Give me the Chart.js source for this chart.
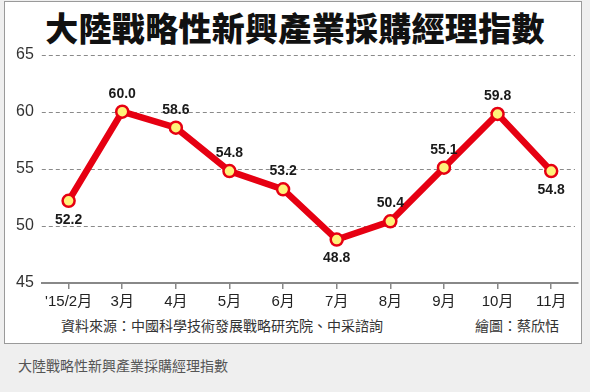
<!DOCTYPE html>
<html><head><meta charset="utf-8">
<script src="https://cdn.jsdelivr.net/npm/chart.js@4"></script>
<style>
html,body{margin:0;padding:0;background:#efefef;width:590px;height:392px;overflow:hidden;font-family:"Liberation Sans","Noto Sans CJK TC",sans-serif;}
#frame{position:absolute;left:4px;top:1px;width:576px;height:341px;background:#fff;border:1px solid #9a9a9a;}
#title{position:absolute;left:0;top:6px;width:590px;text-align:center;font-family:"Noto Sans CJK TC",sans-serif;font-weight:900;font-size:33px;line-height:42px;color:#111;letter-spacing:0.3px;}
#wrap{position:absolute;left:0;top:37px;width:590px;height:278px;}
#src{position:absolute;left:61px;top:316px;font-family:"Noto Sans CJK TC",sans-serif;font-size:14px;line-height:18px;color:#333;}
#author{position:absolute;left:475px;top:316px;font-family:"Noto Sans CJK TC",sans-serif;font-size:14px;line-height:18px;color:#333;}
#cap{position:absolute;left:18px;top:355px;font-family:"Noto Sans CJK TC",sans-serif;font-size:14px;line-height:20px;color:#555;}
</style></head>
<body>
<div id="frame"></div>
<div id="title">大陸戰略性新興產業採購經理指數</div>
<div id="wrap"><canvas id="c" width="590" height="278"></canvas></div>
<div id="src">資料來源：中國科學技術發展戰略研究院、中采諮詢</div>
<div id="author">繪圖：蔡欣恬</div>
<div id="cap">大陸戰略性新興產業採購經理指數</div>
<script>
const categories = ["'15/2月","3月","4月","5月","6月","7月","8月","9月","10月","11月"];
const pmiValues = [52.2, 60.0, 58.6, 54.8, 53.2, 48.8, 50.4, 55.1, 59.8, 54.8];
const labelBelow = [true, false, false, false, false, true, false, false, false, true];
const yTicks = [45, 50, 55, 60, 65];

// dashed horizontal grid lines, positioned by the library's y scale
const dashedGrid = {
  id: 'dashedGrid',
  beforeDatasetsDraw(chart) {
    const ctx = chart.ctx, y = chart.scales.y, area = chart.chartArea;
    ctx.save();
    ctx.strokeStyle = '#8a8a8a';
    ctx.lineWidth = 1;
    ctx.setLineDash([4, 3]);
    y.ticks.forEach(t => {
      if (t.value === y.min) return;
      const py = Math.round(y.getPixelForValue(t.value)) + 0.5;
      ctx.beginPath();
      ctx.moveTo(area.left, py);
      ctx.lineTo(area.right - 3, py);
      ctx.stroke();
    });
    ctx.restore();
  }
};

const valueLabels = {
  id: 'valueLabels',
  afterDatasetsDraw(chart) {
    const ctx = chart.ctx;
    const meta = chart.getDatasetMeta(0);
    ctx.save();
    ctx.font = 'bold 14px "Liberation Sans", Arial, sans-serif';
    ctx.fillStyle = '#1a1a1a';
    ctx.textAlign = 'center';
    ctx.textBaseline = 'middle';
    meta.data.forEach((pt, i) => {
      const dy = labelBelow[i] ? 19 : -18;
      ctx.fillText(pmiValues[i].toFixed(1), pt.x, pt.y + dy);
    });
    ctx.restore();
  }
};

new Chart(document.getElementById('c'), {
  type: 'line',
  data: {
    labels: categories,
    datasets: [{
      data: pmiValues,
      borderColor: '#e60012',
      borderWidth: 6.5,
      pointRadius: 6,
      pointBorderWidth: 2.5,
      pointBackgroundColor: '#fff27a',
      pointBorderColor: '#e60012',
      tension: 0,
      clip: false
    }]
  },
  options: {
    responsive: false,
    animation: false,
    devicePixelRatio: 1,
    layout: { padding: { left: 8, right: 12, top: 3, bottom: 0 } },
    plugins: { legend: { display: false }, tooltip: { enabled: false }, title: { display: false } },
    scales: {
      x: {
        offset: true,
        grid: { display: true, drawOnChartArea: false, drawTicks: true, tickLength: 6, color: '#888', lineWidth: 1.5, offset: false },
        border: { display: true, color: '#888', width: 2 },
        ticks: { color: '#222', font: { size: 15, family: '"Liberation Sans", "Noto Sans CJK TC", sans-serif' }, padding: 4, maxRotation: 0, autoSkip: false }
      },
      y: {
        min: 45, max: 65,
        afterBuildTicks(scale) { scale.ticks = yTicks.map(v => ({ value: v })); },
        grid: { display: false, drawTicks: false },
        border: { display: false },
        ticks: { color: '#333', font: { size: 16, family: '"Liberation Sans", Arial, sans-serif' }, padding: 8 }
      }
    }
  },
  plugins: [dashedGrid, valueLabels]
});
</script>
</body></html>
